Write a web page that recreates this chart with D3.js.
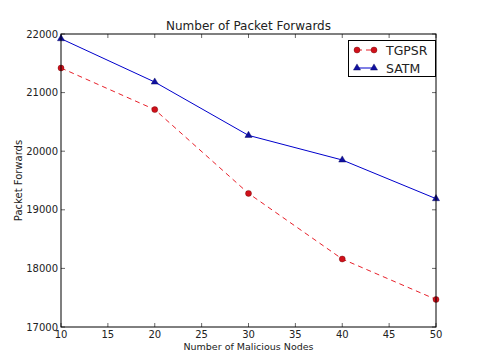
<!DOCTYPE html>
<html>
<head>
<meta charset="utf-8">
<script src="https://cdn.jsdelivr.net/npm/d3@7"></script>
<style>
  body { margin: 0; background: #fff; }
  text { font-family: "DejaVu Sans", sans-serif; fill: #222; }
</style>
</head>
<body>
<svg id="chart" width="485" height="358"></svg>
<script>
// data
const nodes = [10, 20, 30, 40, 50];
const tgpsr = [21420, 20710, 19280, 18160, 17470];
const satm = [21920, 21180, 20270, 19850, 19190];
const xTicks = [10, 15, 20, 25, 30, 35, 40, 45, 50];
const yTicks = [17000, 18000, 19000, 20000, 21000, 22000];

const svg = d3.select("#chart");
const plotL = 61, plotR = 436, plotT = 34, plotB = 327;

const x = d3.scaleLinear().domain([10, 50]).range([plotL, plotR]);
const y = d3.scaleLinear().domain([17000, 22000]).range([plotB, plotT]);

svg.append("rect").attr("width", 485).attr("height", 358).attr("fill", "#fff");

// ticks pointing inwards, on all four sides
const g = svg.append("g");
xTicks.forEach((t) => {
  g.append("line").attr("x1", x(t)).attr("x2", x(t)).attr("y1", plotB).attr("y2", plotB - 4).attr("stroke", "#000").attr("stroke-width", 0.6);
  g.append("line").attr("x1", x(t)).attr("x2", x(t)).attr("y1", plotT).attr("y2", plotT + 4).attr("stroke", "#000").attr("stroke-width", 0.6);
  g.append("text").attr("x", x(t)).attr("y", plotB + 11).attr("text-anchor", "middle").attr("font-size", 10).text(t);
});
yTicks.forEach((t) => {
  g.append("line").attr("x1", plotL).attr("x2", plotL + 4).attr("y1", y(t)).attr("y2", y(t)).attr("stroke", "#000").attr("stroke-width", 0.6);
  g.append("line").attr("x1", plotR).attr("x2", plotR - 4).attr("y1", y(t)).attr("y2", y(t)).attr("stroke", "#000").attr("stroke-width", 0.6);
  g.append("text").attr("x", plotL - 3).attr("y", y(t) + 3.5).attr("text-anchor", "end").attr("font-size", 10).text(t);
});

const line = d3.line().x((d, i) => x(nodes[i])).y((d) => y(d));

svg.append("path").datum(tgpsr).attr("d", line).attr("fill", "none")
  .attr("stroke", "#e8202a").attr("stroke-width", 1).attr("stroke-dasharray", "5,4");
svg.append("path").datum(satm).attr("d", line).attr("fill", "none")
  .attr("stroke", "#0000cc").attr("stroke-width", 1);

svg.append("g").selectAll("circle").data(tgpsr).join("circle")
  .attr("cx", (d, i) => x(nodes[i])).attr("cy", (d) => y(d)).attr("r", 3)
  .attr("fill", "#d0101a").attr("stroke", "#600").attr("stroke-width", 0.4);
svg.append("g").selectAll("path").data(satm).join("path")
  .attr("d", d3.symbol().type(d3.symbolTriangle).size(22))
  .attr("transform", (d, i) => `translate(${x(nodes[i])},${y(d)})`)
  .attr("fill", "#1010a0").attr("stroke", "#000055").attr("stroke-width", 0.4);

// frame
svg.append("rect").attr("x", plotL).attr("y", plotT).attr("width", plotR - plotL).attr("height", plotB - plotT)
  .attr("fill", "none").attr("stroke", "#000").attr("stroke-width", 1);

svg.append("text").attr("x", (plotL + plotR) / 2).attr("y", 30).attr("text-anchor", "middle")
  .attr("font-size", 12).text("Number of Packet Forwards");
svg.append("text").attr("x", (plotL + plotR) / 2).attr("y", 350).attr("text-anchor", "middle")
  .attr("font-size", 9.5).text("Number of Malicious Nodes");
svg.append("text").attr("transform", `translate(22,${(plotT + plotB) / 2}) rotate(-90)`)
  .attr("text-anchor", "middle").attr("font-size", 10).text("Packet Forwards");

// legend
const leg = svg.append("g");
leg.append("rect").attr("x", 348.5).attr("y", 40.5).attr("width", 87).attr("height", 36)
  .attr("fill", "#fff").attr("stroke", "#000").attr("stroke-width", 1);
const legItems = [
  { name: "TGPSR", color: "#e8202a", dash: "5,4", sym: "circle", fill: "#d0101a" },
  { name: "SATM", color: "#0000cc", dash: null, sym: "tri", fill: "#1010a0" },
];
legItems.forEach((it, i) => {
  const ly = 50 + i * 18;
  leg.append("line").attr("x1", 357).attr("x2", 374).attr("y1", ly).attr("y2", ly)
    .attr("stroke", it.color).attr("stroke-width", 1).attr("stroke-dasharray", it.dash);
  [357, 374].forEach((lx) => {
    if (it.sym == "circle") {
      leg.append("circle").attr("cx", lx).attr("cy", ly).attr("r", 3).attr("fill", it.fill).attr("stroke", "#600").attr("stroke-width", 0.4);
    } else {
      leg.append("path").attr("d", d3.symbol().type(d3.symbolTriangle).size(22))
        .attr("transform", `translate(${lx},${ly})`).attr("fill", it.fill).attr("stroke", "#000055").attr("stroke-width", 0.4);
    }
  });
  leg.append("text").attr("x", 386).attr("y", ly + 4.5).attr("font-size", 12.5).text(it.name);
});
</script>
</body>
</html>
